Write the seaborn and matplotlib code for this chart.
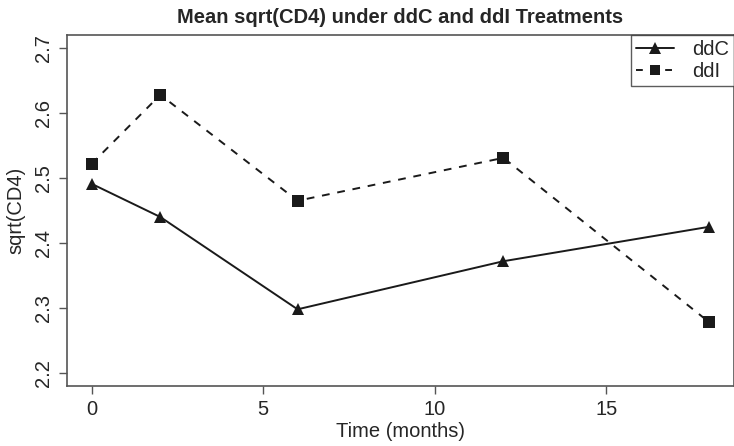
import numpy as np
import pandas as pd
import seaborn as sns
import matplotlib.pyplot as plt
from matplotlib.lines import Line2D

# data
months = [0, 2, 6, 12, 18]
ddc_vals = [2.491, 2.440, 2.298, 2.372, 2.425]
ddi_vals = [2.522, 2.628, 2.465, 2.531, 2.278]

df = pd.DataFrame({
    'Time': months * 2,
    'sqrtCD4': ddc_vals + ddi_vals,
    'Treatment': ['ddC'] * len(months) + ['ddI'] * len(months),
})

sns.set_style('white')
plt.rcParams['font.family'] = ['Liberation Sans', 'DejaVu Sans']

fig = plt.figure(figsize=(7.34, 4.46), dpi=100)
ax = fig.add_axes([0.0913, 0.1345, 0.9087, 0.787])

ax = sns.lineplot(data=df, x='Time', y='sqrtCD4', style='Treatment',
                  markers={'ddC': '^', 'ddI': 's'},
                  dashes={'ddC': '', 'ddI': (4, 4)},
                  color='#1a1a1a', linewidth=1.4, markersize=8,
                  markeredgewidth=0, ax=ax, legend=False)

ax.set_xlim(-0.72, 18.72)
ax.set_ylim(2.18, 2.72)
ax.set_xticks([0, 5, 10, 15])
ax.set_yticks([2.2, 2.3, 2.4, 2.5, 2.6, 2.7])
ax.set_yticklabels(['2.2', '2.3', '2.4', '2.5', '2.6', '2.7'], rotation=90, va='center')
ax.tick_params(axis='both', direction='out', length=6, width=1, color='#555555',
               labelsize=14.5, pad=4, bottom=True, left=True)
for s in ax.spines.values():
    s.set_color('#555555')
    s.set_linewidth(1.2)

ax.set_xlabel('Time (months)', fontsize=14.5, labelpad=2)
ax.set_ylabel('sqrt(CD4)', fontsize=14.5, labelpad=6)
ax.set_title('Mean sqrt(CD4) under ddC and ddI Treatments', fontsize=14.5,
             fontweight='bold', pad=9)

handles = [Line2D([], [], color='#1a1a1a', marker='^', markersize=8, lw=1.4, markeredgewidth=0),
           Line2D([], [], color='#1a1a1a', marker='s', markersize=7, lw=1.4,
                  dashes=(3.5, 4), markeredgewidth=0)]
leg = ax.legend(handles, ['ddC', 'ddI'], loc='upper right', bbox_to_anchor=(1, 1),
                borderaxespad=0, fontsize=14.5, frameon=True, fancybox=False,
                handlelength=1.9, handletextpad=0.9, borderpad=0.25, labelspacing=0.15)
leg.get_frame().set_edgecolor('#333333')
leg.get_frame().set_linewidth(1.0)

plt.savefig('out.png', dpi=100)
